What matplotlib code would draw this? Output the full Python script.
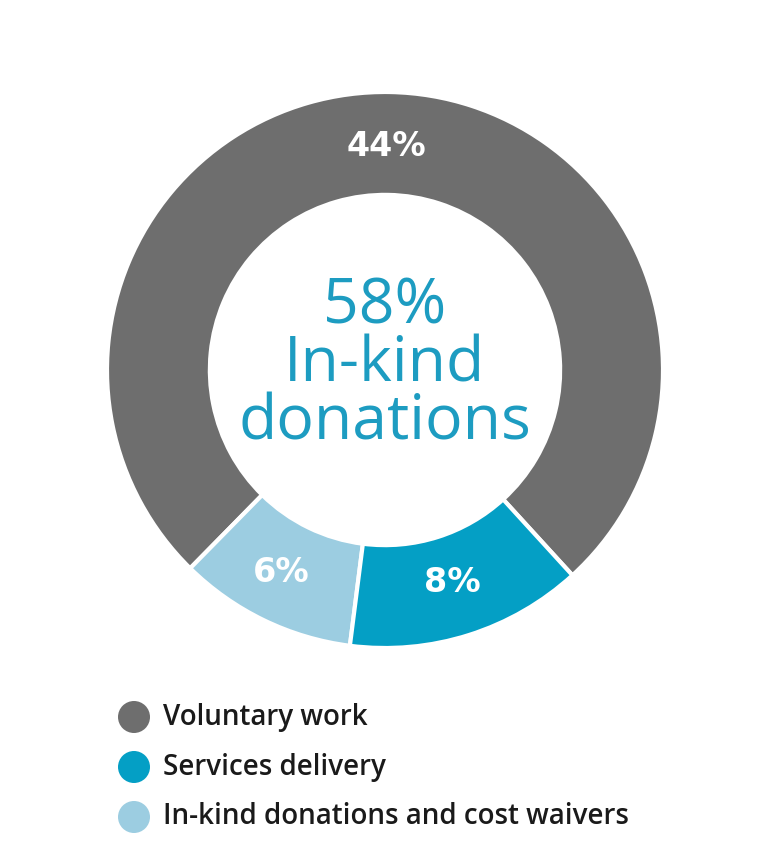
import matplotlib
matplotlib.use("Agg")
import matplotlib.pyplot as plt
from matplotlib.patches import Circle

# Shares of in-kind donations (percent)
categories = ["Voluntary work", "In-kind donations and cost waivers", "Services delivery"]
values = [44, 6, 8]
labels = ["44%", "6%", "8%"]
colors = ["#6e6e6e", "#9ccde1", "#049fc5"]

legend_names = ["Voluntary work", "Services delivery", "In-kind donations and cost waivers"]
legend_colors = ["#6e6e6e", "#049fc5", "#9ccde1"]

center_lines = ["58%", "In-kind", "donations"]

W, H = 768, 860
fig = plt.figure(figsize=(W / 100, H / 100), dpi=100)
ax = fig.add_axes([0, 0, 1, 1])

cx, cy = 385, H - 370
R = 278
ring = 0.37

ax.pie(
    values, colors=colors, radius=R, center=(cx, cy), startangle=-47.6,
    counterclock=True,
    wedgeprops=dict(width=R * ring, edgecolor="white", linewidth=3),
    frame=True,
)
ax.set_xlim(0, W)
ax.set_ylim(0, H)
ax.set_aspect("equal")
ax.axis("off")

label_pos = [(386, 147), (281, 573), (452, 582)]
for lab, (x, y) in zip(labels, label_pos):
    ax.text(x, H - y, lab, color="white", fontsize=24, fontweight="bold",
            family="DejaVu Sans", ha="center", va="center")

center_color = "#1d9cc1"
ax.text(cx, H - 365, "\n".join(center_lines), color=center_color, fontsize=45,
        family="Open Sans", fontweight="normal", ha="center", va="center",
        multialignment="center", linespacing=0.9)

for i, (name, col) in enumerate(zip(legend_names, legend_colors)):
    y = H - (717 + 50 * i)
    ax.add_patch(Circle((134, y), 16, color=col, lw=0))
    ax.text(163, y, name, color="#1a1a1a", fontsize=20, family="Open Sans",
            fontweight="semibold", ha="left", va="center")

fig.savefig("out.png", dpi=100, facecolor="white")
